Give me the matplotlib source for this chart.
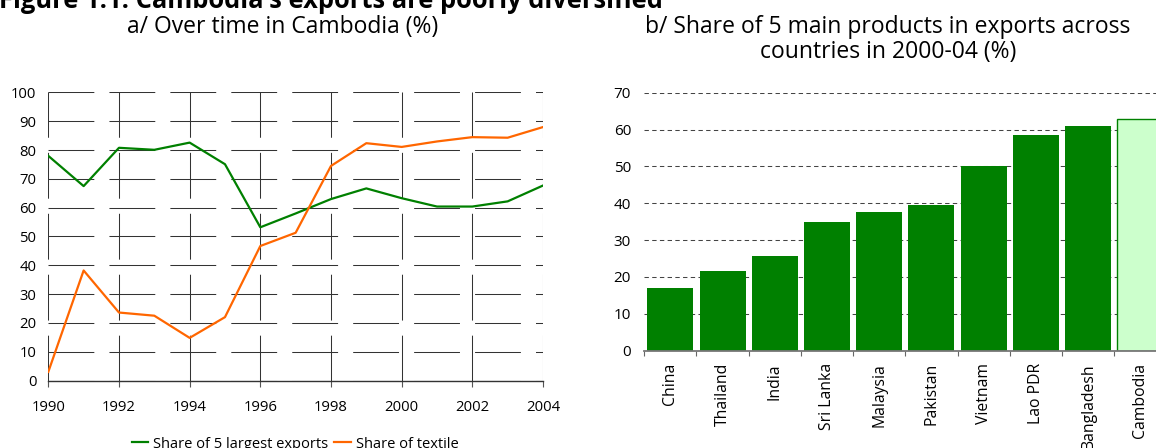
import numpy as np
from matplotlib import pyplot as plt
from matplotlib.ticker import FixedLocator

plt.rcParams["font.family"] = ["Open Sans", "DejaVu Sans"]

# Panel a: shares over time in Cambodia (%)
years = list(range(1990, 2005))
top5_share = [78, 67.5, 80.8, 80.1, 82.6, 75.1, 53.2, 58, 63, 66.7, 63.3, 60.4, 60.4, 62.2, 67.7]
textile_share = [3, 38.2, 23.6, 22.5, 14.8, 22, 46.7, 51.3, 74.5, 82.4, 81.1, 83, 84.5, 84.3, 88]

# Panel b: share of 5 main products in exports, 2000-04 (%)
countries = ["China", "Thailand", "India", "Sri Lanka", "Malaysia", "Pakistan",
             "Vietnam", "Lao PDR", "Bangladesh", "Cambodia"]
main5_share = [17.1, 21.7, 25.8, 35.0, 37.5, 39.4, 50.0, 58.4, 60.9, 63.0]

W, H = 1156, 448
fig = plt.figure(figsize=(W / 100, H / 100), dpi=100)

fig.text(663 / W, 1 - 7.5 / H, "Figure 1.1. Cambodia's exports are poorly diversified",
         ha="right", va="baseline", fontsize=18.4, fontweight="bold")

# ---- left panel
ax1 = fig.add_axes([48.3 / W, (H - 380.5) / H, (543 - 48.3) / W, (380.5 - 92.5) / H])
ax1.plot(years, top5_share, color="#008000", lw=1.6, label="Share of 5 largest exports")
ax1.plot(years, textile_share, color="#ff6600", lw=1.6, label="Share of textile")
ax1.set_xlim(1990, 2004)
ax1.set_ylim(0, 100)
ax1.set_xticks(range(1990, 2005, 2))
ax1.set_yticks(range(0, 101, 10))
ax1.grid(True, color="#333333", lw=0.75, linestyle=(0, (44, 14.5)))
ax1.set_axisbelow(True)
for side in ["top", "right", "left"]:
    ax1.spines[side].set_visible(False)
ax1.spines["bottom"].set_color("#333333")
ax1.spines["bottom"].set_linewidth(1.0)
ax1.tick_params(axis="x", length=4.3, color="#555555", pad=9.5, labelsize=10.7)
ax1.tick_params(axis="y", length=0, pad=8.5, labelsize=10.7)

fig.text(283 / W, 1 - 33.3 / H, "a/ Over time in Cambodia (%)", ha="center", va="baseline",
         fontsize=16.5)
fig.legend(loc="center", bbox_to_anchor=(295 / W, 1 - 444 / H), ncol=2, frameon=False,
           fontsize=10.5, handlelength=1.15, handletextpad=0.3, columnspacing=0.45)

# ---- right panel
ax2 = fig.add_axes([644.3 / W, (H - 350.7) / H, 522 / W, (350.7 - 92.7) / H])
pos = np.arange(len(countries)) + 0.5
colors = ["#008000"] * (len(countries) - 1) + ["#ccffcc"]
ax2.bar(pos, main5_share, width=0.88, color=colors, edgecolor=colors[:-1] + ["#008000"],
        linewidth=[0] * (len(countries) - 1) + [1.0])
ax2.set_xlim(0, len(countries))
ax2.set_ylim(0, 70)
ax2.set_yticks(range(0, 71, 10))
ax2.yaxis.grid(True, color="#444444", lw=0.75, linestyle=(0, (4.2, 3.2)))
ax2.set_axisbelow(True)
ax2.xaxis.set_major_locator(FixedLocator(range(len(countries) + 1)))
ax2.xaxis.set_minor_locator(FixedLocator(pos))
ax2.set_xticklabels([])
ax2.set_xticklabels(countries, minor=True, rotation=90, va="top", ha="center")
ax2.tick_params(axis="x", which="major", length=3.5, color="#666666")
ax2.tick_params(axis="x", which="minor", length=0, pad=9, labelsize=11.3)
ax2.tick_params(axis="y", length=0, pad=9.5, labelsize=11)
for side in ["top", "right", "left"]:
    ax2.spines[side].set_visible(False)
ax2.spines["bottom"].set_color("#777777")
ax2.spines["bottom"].set_linewidth(1.3)

fig.text(888 / W, 1 - 57.5 / H,
         "b/ Share of 5 main products in exports across\ncountries in 2000-04 (%)",
         ha="center", va="baseline", fontsize=16.5, linespacing=1.05)

plt.savefig("out.png", dpi=100)
